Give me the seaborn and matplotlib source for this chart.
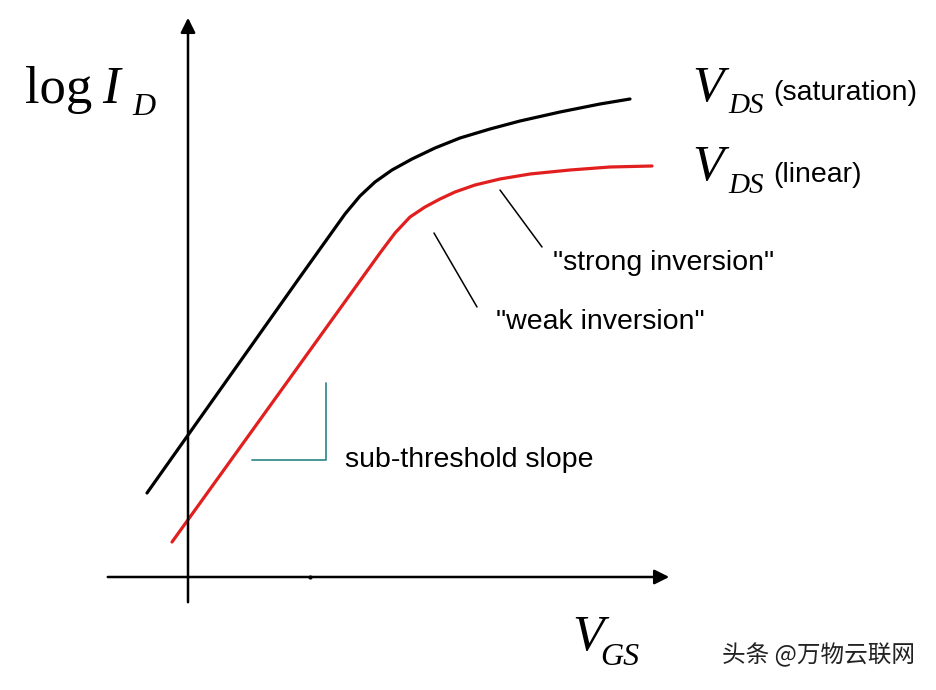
import numpy as np
import pandas as pd
import matplotlib
matplotlib.use("Agg")
import matplotlib.pyplot as plt
import seaborn as sns

# schematic units: x = V_GS, y = log I_D (origin where the axes cross)
sat_vgs = [-0.41, 1.12, 1.57, 1.72, 1.87, 2.04, 2.24, 2.47, 2.72, 3.02, 3.32, 3.72, 4.12, 4.42]
sat_logid = [0.84, 3.00, 3.63, 3.81, 3.95, 4.07, 4.18, 4.29, 4.39, 4.48, 4.56, 4.65, 4.73, 4.78]

lin_vgs = [-0.16, 1.92, 2.07, 2.22, 2.37, 2.52, 2.67, 2.87, 3.12, 3.42, 3.82, 4.22, 4.64]
lin_logid = [0.35, 3.24, 3.44, 3.60, 3.70, 3.78, 3.85, 3.92, 3.98, 4.03, 4.07, 4.10, 4.11]

slope_x = [0.64, 1.38, 1.38]
slope_y = [1.17, 1.17, 1.94]

strong_x = [3.12, 3.54]
strong_y = [3.87, 3.30]
weak_x = [2.46, 2.89]
weak_y = [3.44, 2.70]

sns.set_style("white")
plt.rcParams['font.family'] = ['Liberation Sans', 'Noto Sans CJK SC', 'DejaVu Sans']
plt.rcParams['text.color'] = 'black'

fig = plt.figure(figsize=(9.36, 6.9), dpi=100)
ax = fig.add_axes([0, 0, 1, 1])
ax.set_xlim(-1.88, 7.48)
ax.set_ylim(-1.13, 5.77)
ax.axis('off')

# axes with arrows
ax.annotate('', xy=(0, 5.62), xytext=(0, -0.28),
            arrowprops=dict(arrowstyle='-|>', color='black', lw=1.8, mutation_scale=22))
ax.annotate('', xy=(4.84, 0), xytext=(-0.83, 0),
            arrowprops=dict(arrowstyle='-|>', color='black', lw=1.8, mutation_scale=22))
ax.plot([1.22], [0], marker='o', color='black', ms=2)

df_sat = pd.DataFrame({'vgs': sat_vgs, 'logid': sat_logid})
df_lin = pd.DataFrame({'vgs': lin_vgs, 'logid': lin_logid})
sns.lineplot(data=df_sat, x='vgs', y='logid', sort=False, color='black', lw=2.3, ax=ax,
             solid_joinstyle='round', solid_capstyle='round')
sns.lineplot(data=df_lin, x='vgs', y='logid', sort=False, color='#e21f1f', lw=2.3, ax=ax,
             solid_joinstyle='round', solid_capstyle='round')

ax.plot(slope_x, slope_y, color='#3a8f8f', lw=1.3)
ax.plot(strong_x, strong_y, color='black', lw=1.1)
ax.plot(weak_x, weak_y, color='black', lw=1.1)

serif = 'Liberation Serif'
# y-axis label
ax.text(-1.63, 4.74, 'log', family=serif, fontsize=38, va='baseline')
ax.text(-0.86, 4.74, 'I', family=serif, style='italic', fontsize=38, va='baseline')
ax.text(-0.56, 4.62, 'D', family=serif, style='italic', fontsize=23, va='baseline')

# curve labels
ax.text(5.04, 4.76, 'V', family=serif, style='italic', fontsize=37, va='baseline')
ax.text(5.40, 4.64, 'DS', family=serif, style='italic', fontsize=21, va='baseline')
ax.text(5.85, 4.77, '(saturation)', fontsize=20.5, va='baseline')
ax.text(5.04, 3.97, 'V', family=serif, style='italic', fontsize=37, va='baseline')
ax.text(5.40, 3.84, 'DS', family=serif, style='italic', fontsize=21, va='baseline')
ax.text(5.85, 3.95, '(linear)', fontsize=20.5, va='baseline')

# x-axis label
ax.text(3.84, -0.73, 'V', family=serif, style='italic', fontsize=37, va='baseline')
ax.text(4.12, -0.88, 'GS', family=serif, style='italic', fontsize=23, va='baseline')

ax.text(3.65, 3.07, '"strong inversion"', fontsize=20.5, va='baseline')
ax.text(3.08, 2.48, '"weak inversion"', fontsize=20.5, va='baseline')
ax.text(1.57, 1.10, 'sub-threshold slope', fontsize=20.5, va='baseline')

ax.text(5.34, -0.78, '头条 @万物云联网', fontsize=17, color='#222222', va='center',
        family=['Noto Sans CJK SC', 'DejaVu Sans'])

fig.savefig('out.png', dpi=100)
